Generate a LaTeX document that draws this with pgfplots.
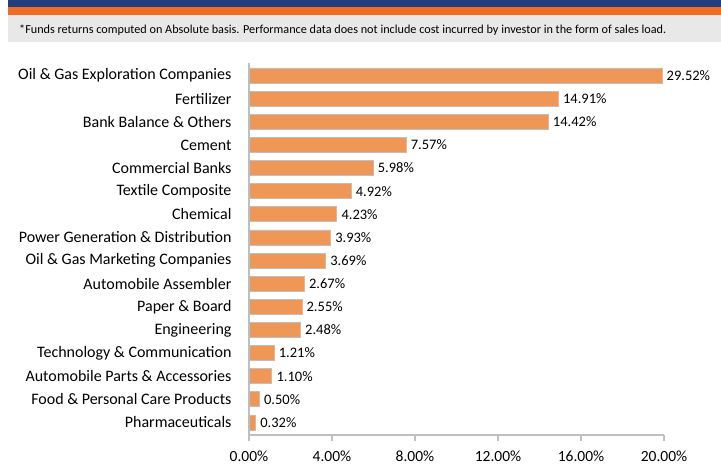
\documentclass[border=0pt]{standalone}
\usepackage{pgfplots}
\pgfplotsset{compat=1.18}
\usepackage{fontspec}
\setmainfont{Carlito}
\definecolor{hdrblue}{HTML}{1F3E7A}
\definecolor{hdrorange}{HTML}{F26B22}
\definecolor{hdrgray}{HTML}{E8E8E8}
\definecolor{barfill}{HTML}{EE9757}
\definecolor{axgray}{HTML}{BFBFBF}

\begin{document}
\begin{tikzpicture}[x=1pt,y=1pt]
\path[use as bounding box] (0,0) rectangle (721,465);
% header bands
\fill[hdrblue] (8,465) rectangle (721,458);
\fill[hdrorange] (8,458) rectangle (721,450);
\fill[hdrgray] (8,450) rectangle (721,423);
\node[anchor=west,inner sep=0pt,font=\fontsize{12.2}{13}\selectfont] at (19,434.5)
  {*Funds returns computed on Absolute basis. Performance data does not include cost incurred by investor in the form of sales load.};

\begin{axis}[
    at={(249pt,30pt)}, anchor=south west,
    scale only axis, width=415pt, height=372pt,
    xbar, bar width=0.65,
    xmin=0, xmax=20, ymin=-0.54, ymax=15.54,
    axis x line*=bottom, axis y line*=left,
    axis line style={axgray, line width=1.5pt, -},
    xtick={0,4,8,12,16,20},
    xticklabels={0.00\%,4.00\%,8.00\%,12.00\%,16.00\%,20.00\%},
    x tick label style={font=\fontsize{15.5}{16}\selectfont, yshift=-6pt},
    x tick style={axgray, line width=1.2pt},
    tick align=outside, major tick length=6pt,
    ytick={0,...,15},
    yticklabels={Pharmaceuticals, Food \& Personal Care Products,
      Automobile Parts \& Accessories, Technology \& Communication,
      Engineering, Paper \& Board, Automobile Assembler,
      Oil \& Gas Marketing Companies, Power Generation \& Distribution,
      Chemical, Textile Composite, Commercial Banks, Cement,
      Bank Balance \& Others, Fertilizer, Oil \& Gas Exploration Companies},
    y tick label style={font=\fontsize{16}{17}\selectfont, xshift=-8pt},
    y tick style={draw=none},
    point meta=explicit symbolic,
    nodes near coords,
    nodes near coords style={font=\fontsize{14.5}{15}\selectfont, anchor=west, xshift=1pt},
]
\addplot[draw=axgray, line width=0.8pt, fill=barfill]
coordinates {
    (0.32,0)  [0.32\%]
    (0.50,1)  [0.50\%]
    (1.10,2)  [1.10\%]
    (1.21,3)  [1.21\%]
    (2.48,4)  [2.48\%]
    (2.55,5)  [2.55\%]
    (2.67,6)  [2.67\%]
    (3.69,7)  [3.69\%]
    (3.93,8)  [3.93\%]
    (4.23,9)  [4.23\%]
    (4.92,10) [4.92\%]
    (5.98,11) [5.98\%]
    (7.57,12) [7.57\%]
    (14.42,13) [14.42\%]
    (14.91,14) [14.91\%]
    (19.90,15) [29.52\%]
};
\end{axis}
\end{tikzpicture}
\end{document}
